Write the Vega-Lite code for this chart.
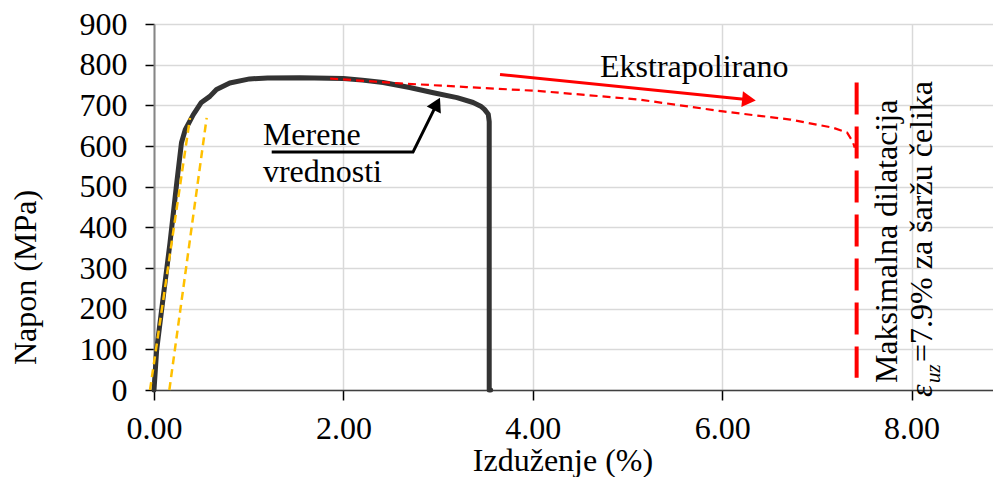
{
  "$schema": "https://vega.github.io/schema/vega-lite/v6.json",
  "width": 839,
  "height": 366,
  "autosize": "none",
  "padding": {"left": 154, "top": 24, "right": 0, "bottom": 87},
  "background": "white",
  "config": {
    "view": {"stroke": null},
    "font": "Liberation Serif",
    "axis": {
      "labelFont": "Liberation Serif",
      "titleFont": "Liberation Serif",
      "labelFontSize": 32,
      "titleFontSize": 32,
      "labelColor": "black",
      "titleColor": "black",
      "titleFontWeight": "normal",
      "gridColor": "#d9d9d9",
      "gridWidth": 1.5,
      "tickColor": "black",
      "tickWidth": 1.5,
      "labelFlush": false,
      "labelOverlap": false
    }
  },
  "datasets": {
    "measured": [
      {"i": 0, "x": 0.0, "y": 0},
      {"i": 1, "x": 0.028, "y": 98},
      {"i": 2, "x": 0.098, "y": 230},
      {"i": 3, "x": 0.169, "y": 362},
      {"i": 4, "x": 0.24, "y": 509},
      {"i": 5, "x": 0.29, "y": 608},
      {"i": 6, "x": 0.33, "y": 640},
      {"i": 7, "x": 0.415, "y": 677},
      {"i": 8, "x": 0.5, "y": 707},
      {"i": 9, "x": 0.59, "y": 722},
      {"i": 10, "x": 0.66, "y": 739},
      {"i": 11, "x": 0.8, "y": 755},
      {"i": 12, "x": 1.01, "y": 765},
      {"i": 13, "x": 1.2, "y": 767},
      {"i": 14, "x": 1.54, "y": 768},
      {"i": 15, "x": 2.0, "y": 766},
      {"i": 16, "x": 2.2, "y": 762},
      {"i": 17, "x": 2.42, "y": 756},
      {"i": 18, "x": 2.7, "y": 744},
      {"i": 19, "x": 2.95, "y": 731},
      {"i": 20, "x": 3.2, "y": 719},
      {"i": 21, "x": 3.37, "y": 707},
      {"i": 22, "x": 3.45, "y": 698},
      {"i": 23, "x": 3.49, "y": 690},
      {"i": 24, "x": 3.53, "y": 678},
      {"i": 25, "x": 3.54, "y": 660},
      {"i": 26, "x": 3.54, "y": 0},
      {"i": 27, "x": 3.555, "y": 0}
    ],
    "extrapolated": [
      {"x": 1.86, "y": 766},
      {"x": 2.6, "y": 754},
      {"x": 3.3, "y": 745},
      {"x": 4.08, "y": 735},
      {"x": 5.13, "y": 714},
      {"x": 6.01, "y": 685},
      {"x": 6.72, "y": 665},
      {"x": 7.17, "y": 645},
      {"x": 7.32, "y": 633},
      {"x": 7.38, "y": 610},
      {"x": 7.4, "y": 596}
    ],
    "elastic": [
      {"line": "a", "x": -0.042, "y": 0},
      {"line": "a", "x": 0.38, "y": 669},
      {"line": "b", "x": 0.162, "y": 0},
      {"line": "b", "x": 0.556, "y": 669}
    ],
    "limit": [{"x": 7.42, "ytop": 756, "ybot": 30}],
    "blackArrow": [
      {"x": 1.243, "y": 585},
      {"x": 2.735, "y": 585},
      {"x": 2.987, "y": 703.7}
    ],
    "blackHead": [{"x": 2.987, "y": 703.7, "a": 26.6}],
    "redArrow": [
      {"x": 3.654, "y": 775.9},
      {"x": 6.283, "y": 713.5}
    ],
    "redHead": [{"x": 6.283, "y": 713.5, "a": 95.8}],
    "labels": [
      {"x": 4.71, "y": 768.5, "t": "Ekstrapolirano"},
      {"x": 1.15, "y": 603, "t": "Merene"},
      {"x": 1.15, "y": 512, "t": "vrednosti"}
    ],
    "rotLabels": [
      {"x": 7.85, "y": 17, "t": "Maksimalna dilatacija"},
      {"x": 8.215, "y": 69, "t": "=7.9% za šaržu čelika"}
    ],
    "eps": [{"x": 8.215, "y": -17, "t": "ε"}],
    "sub": [{"x": 8.3, "y": 17, "t": "uz"}]
  },
  "layer": [
    {
      "data": {"name": "measured"},
      "mark": {"type": "line", "color": "#333333", "strokeWidth": 5, "strokeJoin": "round", "strokeCap": "round"},
      "encoding": {
        "x": {
          "field": "x", "type": "quantitative",
          "scale": {"domain": [0, 8.86], "nice": false, "zero": false},
          "axis": {
            "values": [0, 2, 4, 6, 8], "format": ".2f",
            "title": "Izduženje (%)",
            "tickSize": 10, "labelPadding": 13,
            "domainColor": "#404040", "domainWidth": 1.5,
            "titleX": 408.5, "titleY": 80, "titleAlign": "center", "titleBaseline": "alphabetic",
            "titleAnchor": null
          }
        },
        "y": {
          "field": "y", "type": "quantitative",
          "scale": {"domain": [0, 900], "nice": false},
          "axis": {
            "values": [0, 100, 200, 300, 400, 500, 600, 700, 800, 900], "format": "d",
            "title": "Napon (MPa)",
            "tickSize": 9, "labelPadding": 18,
            "domainColor": "#868686", "domainWidth": 2,
            "titleAngle": 270, "titleX": -119, "titleY": 253, "titleAlign": "center", "titleBaseline": "alphabetic",
            "titleAnchor": null
          }
        },
        "order": {"field": "i", "type": "quantitative"}
      }
    },
    {
      "data": {"name": "elastic"},
      "mark": {"type": "line", "color": "#FFC000", "strokeWidth": 2.5, "strokeDash": [8, 5]},
      "encoding": {
        "x": {"field": "x", "type": "quantitative"},
        "y": {"field": "y", "type": "quantitative"},
        "detail": {"field": "line"}
      }
    },
    {
      "data": {"name": "extrapolated"},
      "mark": {"type": "line", "color": "#FF0000", "strokeWidth": 2.2, "strokeDash": [8, 5]},
      "encoding": {
        "x": {"field": "x", "type": "quantitative"},
        "y": {"field": "y", "type": "quantitative"}
      }
    },
    {
      "data": {"name": "limit"},
      "mark": {"type": "rule", "color": "#FF0000", "strokeWidth": 4, "strokeDash": [32, 12]},
      "encoding": {
        "x": {"field": "x", "type": "quantitative"},
        "y": {"field": "ytop", "type": "quantitative"},
        "y2": {"field": "ybot"}
      }
    },
    {
      "data": {"name": "blackArrow"},
      "mark": {"type": "line", "color": "black", "strokeWidth": 3},
      "encoding": {
        "x": {"field": "x", "type": "quantitative"},
        "y": {"field": "y", "type": "quantitative"}
      }
    },
    {
      "data": {"name": "blackHead"},
      "mark": {"type": "point", "shape": "triangle-up", "filled": true, "color": "black", "size": 250, "opacity": 1},
      "encoding": {
        "x": {"field": "x", "type": "quantitative"},
        "y": {"field": "y", "type": "quantitative"},
        "angle": {"field": "a", "type": "quantitative", "scale": null}
      }
    },
    {
      "data": {"name": "redArrow"},
      "mark": {"type": "line", "color": "#FF0000", "strokeWidth": 3},
      "encoding": {
        "x": {"field": "x", "type": "quantitative"},
        "y": {"field": "y", "type": "quantitative"}
      }
    },
    {
      "data": {"name": "redHead"},
      "mark": {"type": "point", "shape": "triangle-up", "filled": true, "color": "#FF0000", "size": 250, "opacity": 1},
      "encoding": {
        "x": {"field": "x", "type": "quantitative"},
        "y": {"field": "y", "type": "quantitative"},
        "angle": {"field": "a", "type": "quantitative", "scale": null}
      }
    },
    {
      "data": {"name": "labels"},
      "mark": {"type": "text", "font": "Liberation Serif", "fontSize": 32, "color": "black", "baseline": "alphabetic", "align": "left"},
      "encoding": {
        "x": {"field": "x", "type": "quantitative"},
        "y": {"field": "y", "type": "quantitative"},
        "text": {"field": "t"}
      }
    },
    {
      "data": {"name": "rotLabels"},
      "mark": {"type": "text", "font": "Liberation Serif", "fontSize": 32, "color": "black", "baseline": "alphabetic", "align": "left", "angle": 270},
      "encoding": {
        "x": {"field": "x", "type": "quantitative"},
        "y": {"field": "y", "type": "quantitative"},
        "text": {"field": "t"}
      }
    },
    {
      "data": {"name": "eps"},
      "mark": {"type": "text", "font": "Liberation Serif", "fontSize": 32, "fontStyle": "italic", "color": "black", "baseline": "alphabetic", "align": "left", "angle": 270},
      "encoding": {
        "x": {"field": "x", "type": "quantitative"},
        "y": {"field": "y", "type": "quantitative"},
        "text": {"field": "t"}
      }
    },
    {
      "data": {"name": "sub"},
      "mark": {"type": "text", "font": "Liberation Serif", "fontSize": 21, "fontStyle": "italic", "color": "black", "baseline": "alphabetic", "align": "left", "angle": 270},
      "encoding": {
        "x": {"field": "x", "type": "quantitative"},
        "y": {"field": "y", "type": "quantitative"},
        "text": {"field": "t"}
      }
    }
  ]
}
